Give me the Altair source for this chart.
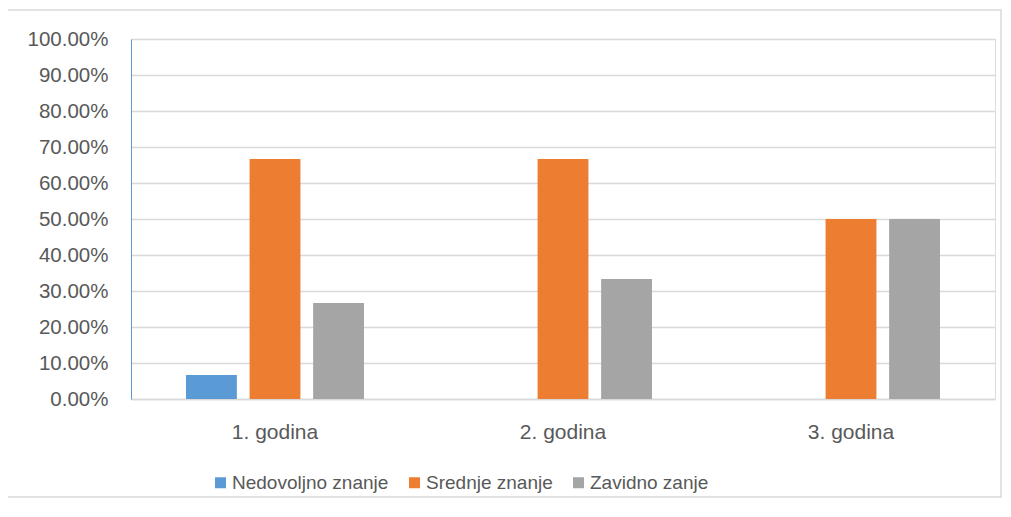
import altair as alt
import pandas as pd

years = ["1. godina", "2. godina", "3. godina"]
series = ["Nedovoljno znanje", "Srednje znanje", "Zavidno zanje"]
nedovoljno = [0.0667, 0.0, 0.0]
srednje = [0.6667, 0.6667, 0.50]
zavidno = [0.2667, 0.3333, 0.50]
colors = ["#5B9BD5", "#ED7D31", "#A5A5A5"]

rows = []
for i, y in enumerate(years):
    for s, vals in zip(series, [nedovoljno, srednje, zavidno]):
        rows.append({"godina": y, "serija": s, "vrijednost": vals[i]})
df = pd.DataFrame(rows)

FONT = "Liberation Sans"
TXT = "#595959"

bars = alt.Chart(df).mark_bar().encode(
    x=alt.X("godina:N", sort=years,
            scale=alt.Scale(paddingInner=0.382, paddingOuter=0.191),
            axis=alt.Axis(title=None, labelAngle=0, labelFontSize=21, labelFont=FONT,
                          labelColor=TXT, labelPadding=22, ticks=False,
                          domainColor="#D9D9D9", domainWidth=1.5, grid=False)),
    xOffset=alt.XOffset("serija:N", sort=series,
                        scale=alt.Scale(paddingInner=0.2, paddingOuter=0)),
    y=alt.Y("vrijednost:Q",
            scale=alt.Scale(domain=[0, 1]),
            axis=alt.Axis(title=None, format=".2%", values=[i / 10 for i in range(11)],
                          labelFontSize=20.5, labelFont=FONT, labelColor=TXT,
                          labelPadding=23, ticks=False, domainColor="#5B9BD5",
                          domainWidth=1, gridColor="#D9D9D9", gridWidth=1.3)),
    color=alt.Color("serija:N", sort=series,
                    scale=alt.Scale(domain=series, range=colors),
                    legend=alt.Legend(title=None, orient="none", direction="horizontal",
                                      legendX=80, legendY=434, symbolType="square",
                                      symbolSize=121, symbolStrokeWidth=0,
                                      labelFontSize=19, labelFont=FONT, labelColor=TXT,
                                      labelOffset=2, columnPadding=16)),
)

frame = alt.Chart(alt.Data(values=[{}])).mark_rect(
    fill=None, stroke="#D9D9D9", strokeWidth=1.5, clip=False
).encode(
    x=alt.value(-124), x2=alt.value(870), y=alt.value(-29), y2=alt.value(458)
)

chart = alt.layer(frame, bars).properties(
    width=864, height=360,
    autosize=alt.AutoSizeParams(type="none"),
    padding={"left": 123, "top": 31, "right": 8, "bottom": 100},
).configure_view(stroke=None).configure(background="white")

chart.save("out.html", embed_options={"renderer": "svg", "actions": False})
